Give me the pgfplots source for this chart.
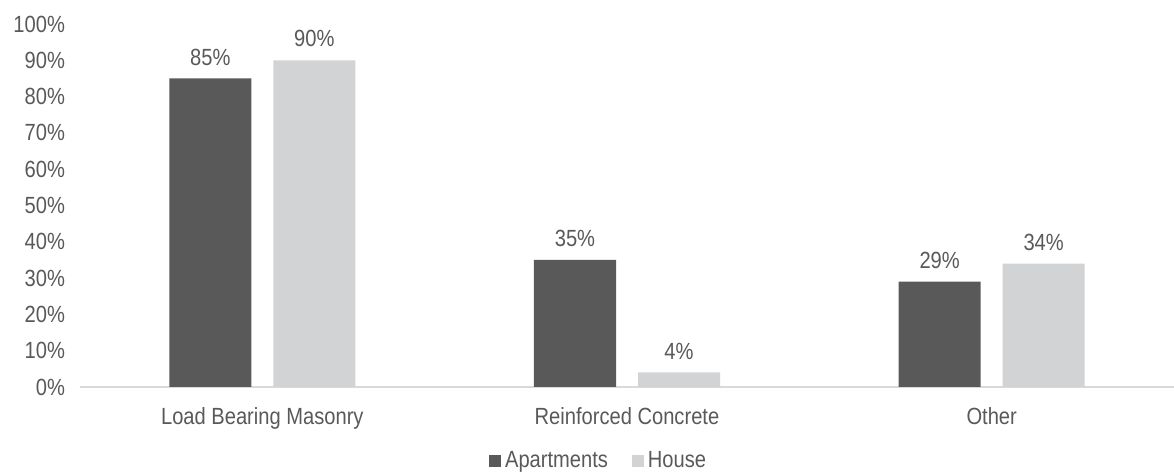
\documentclass[border=0pt]{standalone}
\usepackage{pgfplots}
\pgfplotsset{compat=1.18}
\usepackage{fontspec}
\setmainfont{Liberation Sans}[FakeStretch=0.86]
\definecolor{darkbar}{HTML}{595959}
\definecolor{lightbar}{HTML}{D2D3D5}
\definecolor{txt}{HTML}{595959}
\definecolor{axln}{HTML}{D9D9D9}
\begin{document}
\begin{tikzpicture}
\useasboundingbox (-40pt,-44pt) rectangle (547pt,193.5pt);
\begin{axis}[
  at={(0,0)}, anchor=south west,
  scale only axis,
  width=547pt, height=181.5pt,
  xmin=-0.5, xmax=2.5,
  ymin=0, ymax=100,
  ybar=11pt, bar width=41pt,
  axis x line*=bottom,
  axis y line*=left,
  x axis line style={draw=axln, line width=0.6pt, -},
  y axis line style={draw=none},
  xtick={0,1,2},
  xticklabels={Load Bearing Masonry, Reinforced Concrete, Other},
  major tick length=0pt,
  xticklabel style={yshift=-6.5pt},
  ytick={0,10,...,100},
  yticklabel={\pgfmathprintnumber{\tick}\%},
  yticklabel style={xshift=-4pt},
  font=\fontsize{11.7}{13}\selectfont,
  tick label style={text=txt, /pgf/number format/assume math mode=true},
  nodes near coords={\pgfmathprintnumber{\pgfplotspointmeta}\%},
  nodes near coords style={text=txt, yshift=3pt, /pgf/number format/assume math mode=true},
  legend style={at={(0.475,-0.205)}, anchor=center, draw=none, fill=none,
    legend columns=2, text=txt, font=\fontsize{11.7}{13}\selectfont,
    /tikz/every even column/.append style={column sep=10pt}},
  legend image code/.code={\fill[#1] (0cm,-0.105cm) rectangle (0.21cm,0.105cm);},
  clip=false,
]
\addplot[fill=darkbar, draw=none] coordinates {(0,85) (1,35) (2,29)};
\addplot[fill=lightbar, draw=none] coordinates {(0,90) (1,4) (2,34)};
\legend{Apartments, House}
\end{axis}
\end{tikzpicture}
\end{document}
